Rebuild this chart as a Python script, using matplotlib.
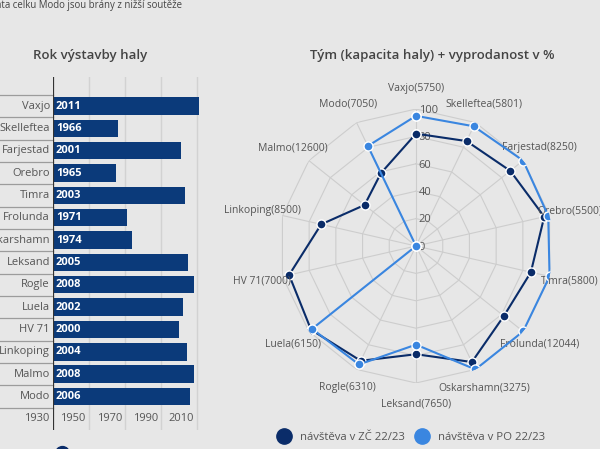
import numpy as np
import matplotlib
matplotlib.use("Agg")
import matplotlib.pyplot as plt
from matplotlib.lines import Line2D

plt.rcParams['font.family'] = ['Open Sans', 'DejaVu Sans']

# rok vystavby haly
teams = ['Vaxjo', 'Skelleftea', 'Farjestad', 'Orebro', 'Timra', 'Frolunda',
         'Oskarshamn', 'Leksand', 'Rogle', 'Luela', 'HV 71', 'Linkoping',
         'Malmo', 'Modo']
built = [2011, 1966, 2001, 1965, 2003, 1971, 1974, 2005, 2008, 2002, 2000,
         2004, 2008, 2006]
year_ticks = [1930, 1950, 1970, 1990, 2010]

# radar: tym (kapacita) + vyprodanost v %
capacity = [5750, 5801, 8250, 5500, 5800, 12044, 3275, 7650, 6310, 6150,
            7000, 8500, 12600, 7050]
zc = [82, 85, 88, 96, 86, 82, 94, 79, 93, 98, 95, 71, 48, 59]
po = [95, 97, 100, 99, 100, 100, 100, 72, 96, 97, 0, 0, 0, 81]
r_ticks = [0, 20, 40, 60, 80, 100]

bg = '#e7e7e7'
navy = '#0b3a7a'
dark = '#0a2c69'
light = '#3a86e0'
txt = '#555555'

W, H = 600, 449
fig = plt.figure(figsize=(6, 4.49), dpi=100, facecolor=bg)


def px(x0, y0, x1, y1):
    # pixel box (top-left origin) -> figure rect
    return [x0 / W, 1 - y1 / H, (x1 - x0) / W, (y1 - y0) / H]


# ---- bar chart ----
ax = fig.add_axes(px(53, 77, 201, 430))
ax.set_facecolor(bg)
n = len(teams)
rows = np.arange(n)
for t in year_ticks[1:]:
    ax.axvline(t, color='#d2d2d2', lw=1, zorder=0)
ax.axvline(1930, color='#333333', lw=1.6, zorder=3)
ax.barh(rows, [b - 1930 for b in built], left=1930, height=0.78,
        color=navy, zorder=2)
for i, b in enumerate(built):
    ax.text(1931.6, i, str(b), color='white', fontsize=8, fontweight='bold',
            va='center', ha='left', zorder=4)
    ax.text(1928.3, i, teams[i], color=txt, fontsize=8, va='center',
            ha='right', clip_on=False)
for k in range(n + 1):
    ax.plot([1899, 1930], [k - 0.5, k - 0.5], color='#9c9c9c', lw=0.9,
            clip_on=False, zorder=1)
for t in year_ticks:
    ax.text(t - 1.8, n, str(t), color=txt, fontsize=8, va='center', ha='right',
            clip_on=False)
ax.set_xlim(1930, 2012)
ax.set_ylim(n + 0.5, -1.3)
ax.axis('off')
fig.text(90 / W, 1 - 56 / H, 'Rok výstavby haly', ha='center', va='center',
         fontsize=9.5, color='#444444', fontweight='semibold')

# ---- radar ----
rx = fig.add_axes(px(279, 109, 553, 383), projection='polar')
rx.set_facecolor(bg)
rx.set_theta_zero_location('N')
rx.set_theta_direction(-1)
ang = np.arange(n) * 2 * np.pi / n
ang_c = np.append(ang, ang[0])
for r in r_ticks[1:]:
    rx.plot(ang_c, [r] * (n + 1), color='#cdcdcd', lw=0.8, zorder=0)
for a in ang:
    rx.plot([a, a], [0, 100], color='#cdcdcd', lw=0.8, zorder=0)
for r in r_ticks:
    rx.annotate(str(r), (0, r), xytext=(2, -1), textcoords='offset points',
                fontsize=8, color=txt, va='center', ha='left')
rx.plot(ang_c, zc + zc[:1], color=dark, lw=1.5, marker='o', ms=6.5,
        mec='white', mew=1, zorder=3)
rx.plot(ang_c, po + po[:1], color=light, lw=1.5, marker='o', ms=6.5,
        mec='white', mew=1, zorder=4)
for a, t, c in zip(ang, teams, capacity):
    rx.text(a, 115, f'{t}({c})', fontsize=7.5, color=txt, ha='center',
            va='center')
rx.set_ylim(0, 100)
rx.grid(False)
rx.set_xticks([])
rx.set_yticks([])
rx.spines['polar'].set_visible(False)
fig.text(432 / W, 1 - 56 / H, 'Tým (kapacita haly) + vyprodanost v %',
         ha='center', va='center', fontsize=9.5, color='#444444',
         fontweight='semibold')

handles = [Line2D([], [], ls='none', marker='o', ms=11, color=dark),
           Line2D([], [], ls='none', marker='o', ms=11, color=light)]
fig.legend(handles, ['návštěva v ZČ 22/23', 'návštěva v PO 22/23'],
           loc='center', bbox_to_anchor=(409 / W, 1 - 437 / H), ncol=2,
           frameon=False, fontsize=8.2, labelcolor=txt, handletextpad=0.4,
           columnspacing=0.5)

# cropped note on top and cropped marker bottom-left
fig.text(182 / W, 1 - 8 / H, 'Data celku Modo jsou brány z nižší soutěže',
         ha='right', va='baseline', fontsize=6.9, color='#444444')
fig.add_artist(Line2D([62 / W], [-4 / H], ls='none', marker='o', ms=10,
                      color=dark, transform=fig.transFigure))

fig.savefig('out.png', dpi=100, facecolor=bg)
